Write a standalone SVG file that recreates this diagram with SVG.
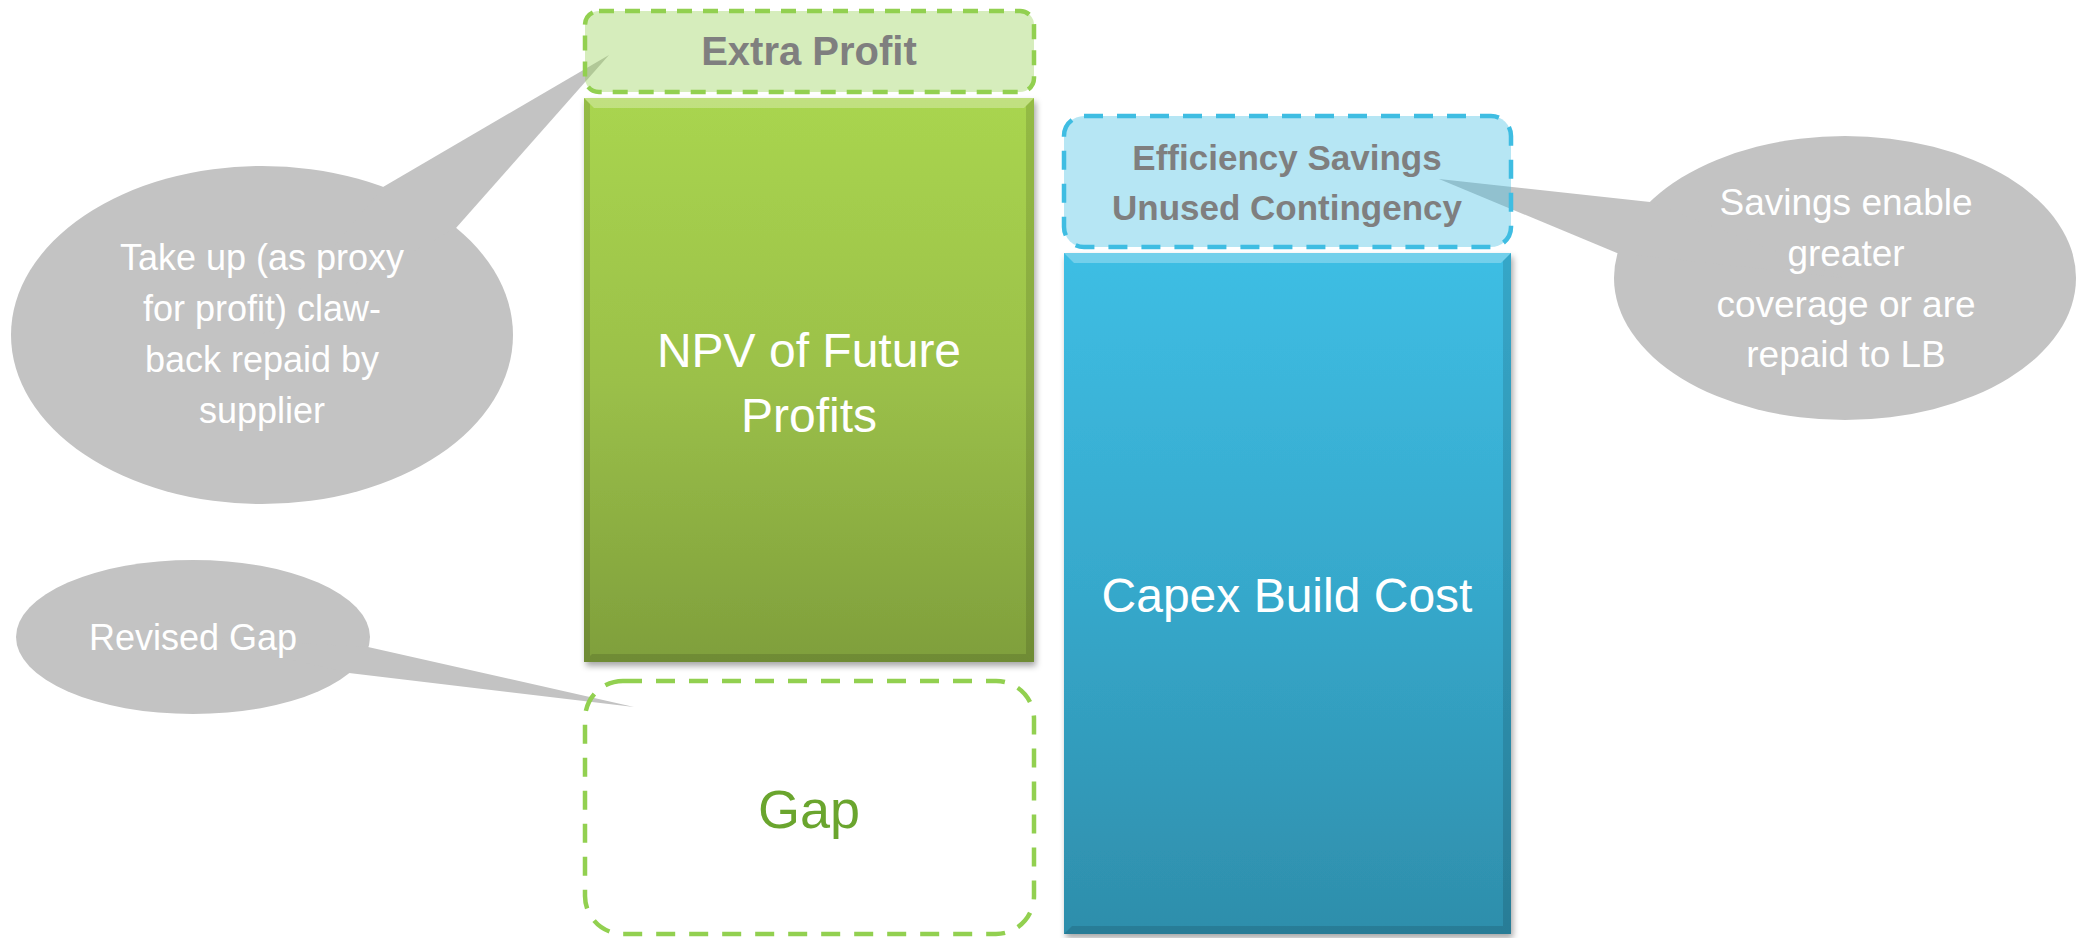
<svg xmlns="http://www.w3.org/2000/svg" width="2078" height="938" viewBox="0 0 2078 938">
<defs>
<linearGradient id="gGreen" x1="0" y1="0" x2="0" y2="1">
<stop offset="0" stop-color="#a9d54f"/>
<stop offset="0.5" stop-color="#9bc049"/>
<stop offset="1" stop-color="#7f9f3c"/>
</linearGradient>
<linearGradient id="gBlue" x1="0" y1="0" x2="0" y2="1">
<stop offset="0" stop-color="#3ebee4"/>
<stop offset="0.5" stop-color="#36a8cb"/>
<stop offset="1" stop-color="#2e8eab"/>
</linearGradient>
<filter id="shadow" x="-5%" y="-5%" width="110%" height="110%">
<feDropShadow dx="2" dy="4" stdDeviation="3" flood-color="#000" flood-opacity="0.35"/>
</filter>
<style>
.callout{fill:#c3c3c3}
.ctext{font-family:"Liberation Sans",Arial,sans-serif;font-size:36px;fill:#ffffff;text-anchor:middle}
.btext{font-family:"Liberation Sans",Arial,sans-serif;font-size:48px;fill:#ffffff;text-anchor:middle}
.htext{font-family:"Liberation Sans",Arial,sans-serif;font-weight:bold;fill:#7f7f7f;text-anchor:middle}
.hl{fill:#ffffff;opacity:0.28}
.dk{fill:#000000;opacity:0.12}
</style>
</defs>

<g id="callout-takeup">
<ellipse class="callout" cx="262" cy="335" rx="251" ry="169"/>
<polygon class="callout" points="383,187 609,55 456,228 262,335"/>
<text class="ctext" x="262" y="270">Take up (as proxy</text>
<text class="ctext" x="262" y="321">for profit) claw-</text>
<text class="ctext" x="262" y="372">back repaid by</text>
<text class="ctext" x="262" y="423">supplier</text>
</g>

<g id="callout-revised">
<ellipse class="callout" cx="193" cy="637" rx="177" ry="77"/>
<polygon class="callout" points="368,647 634,707 349,673 193,637"/>
<text class="ctext" x="193" y="650">Revised Gap</text>
</g>

<g id="callout-savings">
<ellipse class="callout" cx="1845" cy="278" rx="231" ry="142"/>
<polygon class="callout" points="1650,202 1439,179 1617,253 1845,278"/>
<text class="ctext" x="1846" y="215" style="font-size:37px">Savings enable</text>
<text class="ctext" x="1846" y="266" style="font-size:37px">greater</text>
<text class="ctext" x="1846" y="317" style="font-size:37px">coverage or are</text>
<text class="ctext" x="1846" y="367" style="font-size:37px">repaid to LB</text>
</g>

<g id="npv">
<rect x="584" y="98" width="450" height="564" fill="url(#gGreen)" filter="url(#shadow)"/>
<polygon class="hl" points="584,98 1034,98 1024,108 594,108"/>
<polygon class="dk" points="1034,98 1034,662 1026,654 1026,106"/>
<polygon class="dk" points="584,662 1034,662 1026,654 592,654"/>
<polygon class="dk" points="584,98 584,662 590,656 590,104" opacity="0.06"/>
<text class="btext" x="809" y="367">NPV of Future</text>
<text class="btext" x="809" y="432">Profits</text>
</g>

<g id="capex">
<rect x="1064" y="253" width="447" height="681" fill="url(#gBlue)" filter="url(#shadow)"/>
<polygon class="hl" points="1064,253 1511,253 1501,263 1074,263"/>
<polygon class="dk" points="1511,253 1511,934 1503,926 1503,261"/>
<polygon class="dk" points="1064,934 1511,934 1503,926 1072,926"/>
<text class="btext" x="1287" y="612">Capex Build Cost</text>
</g>

<g id="extra-profit">
<rect x="585" y="11" width="449" height="81" rx="14" fill="#92d050" fill-opacity="0.38" stroke="#92d050" stroke-width="4.5" stroke-dasharray="15 11"/>
<text class="htext" x="809" y="65" style="font-size:40px">Extra Profit</text>
</g>

<g id="efficiency">
<rect x="1064" y="116" width="447" height="131" rx="20" fill="#3fbde2" fill-opacity="0.38" stroke="#3fbde2" stroke-width="4.5" stroke-dasharray="19 14"/>
<text class="htext" x="1287" y="170" style="font-size:35px">Efficiency Savings</text>
<text class="htext" x="1287" y="220" style="font-size:35px">Unused Contingency</text>
</g>

<g id="gap">
<rect x="585" y="681" width="449" height="253" rx="38" fill="none" stroke="#92d050" stroke-width="4.5" stroke-dasharray="19 14"/>
<text x="809" y="828" style="font-family:'Liberation Sans',Arial,sans-serif;font-size:54px;fill:#6aa52e;text-anchor:middle">Gap</text>
</g>

<g id="connectors"></g>
</svg>
